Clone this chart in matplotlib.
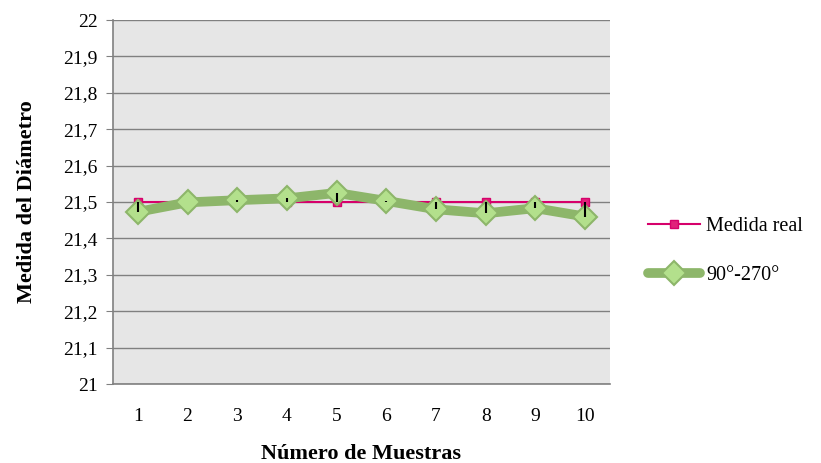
import numpy as np
import matplotlib.pyplot as plt

# datos
muestras = [1, 2, 3, 4, 5, 6, 7, 8, 9, 10]
medida_real = [21.5, 21.5, 21.5, 21.5, 21.5, 21.5, 21.5, 21.5, 21.5, 21.5]
medida_90_270 = [21.473, 21.499, 21.505, 21.51, 21.525, 21.503, 21.48, 21.469, 21.483, 21.46]
y_ticks = [21.0, 21.1, 21.2, 21.3, 21.4, 21.5, 21.6, 21.7, 21.8, 21.9, 22.0]
y_labels = ['21', '21,1', '21,2', '21,3', '21,4', '21,5', '21,6', '21,7', '21,8', '21,9', '22']

plt.rcParams['font.family'] = ['Liberation Serif', 'DejaVu Serif']

fig = plt.figure(figsize=(8.21, 4.63), dpi=100)
ax = fig.add_axes([0.1376, 0.1706, 0.6054, 0.7862])
ax.set_facecolor('#e6e6e6')

ax.plot(muestras, medida_real, color='#d6006b', lw=1.5, marker='s', ms=6,
        mfc='#e0217a', mec='#d6006b', label='Medida real', zorder=3)
ax.plot(muestras, medida_90_270, color='#8db66a', lw=7, marker='D', ms=12,
        mfc='#b3e08c', mec='#8db66a', mew=1.5, label='90°-270°', zorder=4,
        solid_joinstyle='round', solid_capstyle='round')

# barras negras desde el valor medido hacia el valor real
real = np.array(medida_real)
med = np.array(medida_90_270)
diff = real - med
err_low = np.where(diff < 0, -diff, 0)
err_up = np.where(diff > 0, diff, 0)
ax.errorbar(muestras, medida_90_270, yerr=[err_low, err_up], fmt='none',
            ecolor='black', elinewidth=1.5, capsize=0, zorder=5)

ax.set_xlim(0.5, 10.5)
ax.set_ylim(21, 22)
ax.set_xticks(muestras)
ax.set_xticklabels([str(m) for m in muestras])
ax.set_yticks(y_ticks)
ax.set_yticklabels(y_labels)
ax.yaxis.grid(True, color='#808080', lw=1)
ax.set_axisbelow(True)

for s in ['top', 'right']:
    ax.spines[s].set_visible(False)
for s in ['left', 'bottom']:
    ax.spines[s].set_color('#808080')
    ax.spines[s].set_linewidth(1.2)

ax.tick_params(axis='y', length=5, color='#808080', labelsize=14, pad=6)
ax.tick_params(axis='x', length=0, labelsize=14, pad=17)

ax.set_xlabel('Número de Muestras', fontsize=16, fontweight='bold', labelpad=14)
ax.set_ylabel('Medida del Diámetro', fontsize=16, fontweight='bold', labelpad=19)

fig.legend(loc='center left', bbox_to_anchor=(0.767, 0.458), frameon=False,
           fontsize=14.5, handlelength=2.6, labelspacing=1.45, handletextpad=0.3)

plt.savefig('out.png', dpi=100)
